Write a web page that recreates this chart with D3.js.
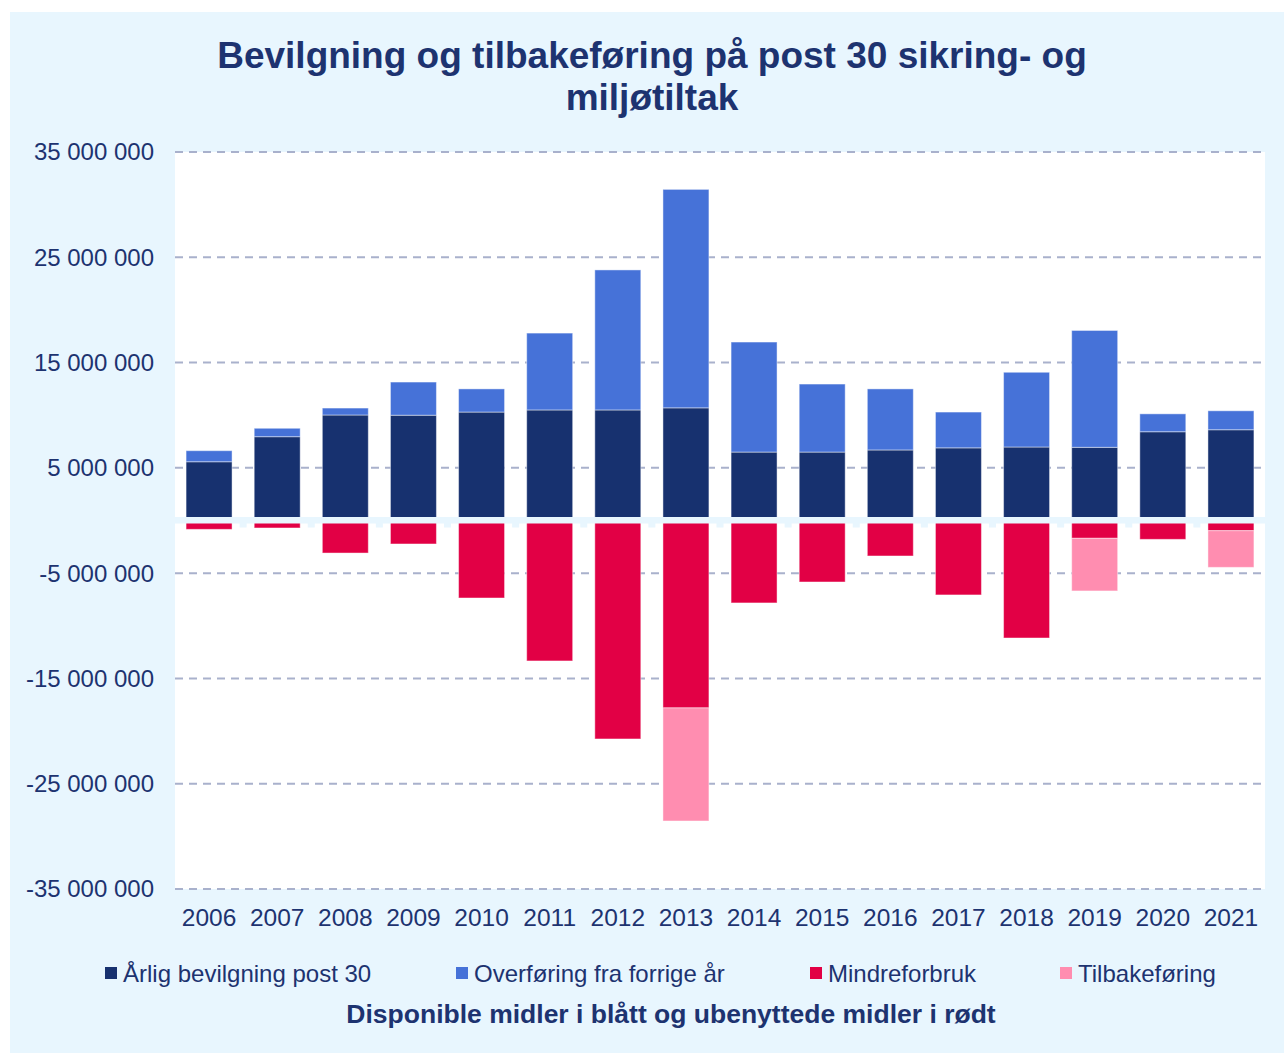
<!DOCTYPE html>
<html><head><meta charset="utf-8">
<script src="https://cdn.jsdelivr.net/npm/d3@7/dist/d3.min.js"></script>
<style>body{margin:0;background:#fff;}svg{display:block;font-family:"Liberation Sans",Arial,sans-serif;}</style>
</head><body>
<svg id="c" width="1284" height="1054"></svg>
<script>
const years = ["2006","2007","2008","2009","2010","2011","2012","2013","2014","2015","2016","2017","2018","2019","2020","2021"];
const arligBevilgning = [5.58,7.96,10.02,10.0,10.3,10.5,10.5,10.7,6.5,6.5,6.7,6.9,6.98,6.95,8.43,8.62].map(v=>v*1e6);
const overforing = [1.05,0.8,0.66,3.15,2.2,7.3,13.3,20.75,10.45,6.46,5.8,3.4,7.1,11.1,1.7,1.8].map(v=>v*1e6);
const mindreforbruk = [-0.84,-0.71,-3.09,-2.23,-7.36,-13.34,-20.75,-17.8,-7.83,-5.84,-3.37,-7.07,-11.16,-1.69,-1.79,-0.97].map(v=>v*1e6);
const tilbakeforing = [0,0,0,0,0,0,0,-10.74,0,0,0,0,0,-5.0,0,-3.48].map(v=>v*1e6);
const yTicks = [35e6,25e6,15e6,5e6,-5e6,-15e6,-25e6,-35e6];
const seriesNames = ["Årlig bevilgning post 30","Overføring fra forrige år","Mindreforbruk","Tilbakeføring"];
const colors = ["#17316f","#4672d8","#e20045","#ff8db0"];
const title = ["Bevilgning og tilbakeføring på post 30 sikring- og","miljøtiltak"];
const subtitle = "Disponible midler i blått og ubenyttede midler i rødt";

const svg = d3.select("#c");
const bg = "#e8f6fe", textCol = "#1d3370";
svg.append("rect").attr("x",10).attr("y",12).attr("width",1274).attr("height",1041).attr("fill",bg);

const L=175,R=1265,T=152,B=889;
svg.append("rect").attr("x",L).attr("y",T).attr("width",R-L).attr("height",B-T).attr("fill","#fff");

const x = d3.scaleBand().domain(years).range([L,R]).paddingInner(0.325).paddingOuter(0.1625);
const y = d3.scaleLinear().domain([-35e6,35e6]).range([B,T]);

// grid
svg.append("g").selectAll("line").data(yTicks).join("line")
  .attr("x1",L).attr("x2",R).attr("y1",d=>y(d)).attr("y2",d=>y(d))
  .attr("stroke","#a9b1cc").attr("stroke-width",2).attr("stroke-dasharray","8,6");

// stacks
const rows = years.map((yr,i)=>({yr, segs:[
  {s:0,y0:0,y1:arligBevilgning[i]},
  {s:1,y0:arligBevilgning[i],y1:arligBevilgning[i]+overforing[i]},
  {s:2,y0:0,y1:mindreforbruk[i]},
  {s:3,y0:mindreforbruk[i],y1:mindreforbruk[i]+tilbakeforing[i]}
]}));
const g = svg.append("g");
rows.forEach(r=>{
  r.segs.filter(s=>s.y1!==s.y0).forEach(s=>{
    g.append("rect").attr("x",x(r.yr)).attr("width",x.bandwidth())
     .attr("y",Math.min(y(s.y0),y(s.y1))).attr("height",Math.abs(y(s.y0)-y(s.y1)))
     .attr("fill",colors[s.s]).attr("stroke","rgba(255,255,255,0.45)").attr("stroke-width",1);
  });
});

// zero band
const z = y(0);
svg.append("rect").attr("x",L).attr("y",z-3.5).attr("width",1284-L).attr("height",6.5).attr("fill",bg);
const step = x.step();
svg.append("g").selectAll("rect").data(d3.range(1,years.length)).join("rect")
  .attr("x",d=>L+d*step-3.5).attr("y",z).attr("width",7).attr("height",7).attr("fill",bg);

// y axis labels
const fmt = d => (d<0?"-":"") + d3.format(",")(Math.abs(d)).replace(/,/g," ");
svg.append("g").selectAll("text").data(yTicks).join("text")
  .attr("x",154).attr("y",d=>y(d)).attr("dy","0.35em").attr("text-anchor","end")
  .attr("font-size",24).attr("fill",textCol)
  .text(fmt);

// x axis labels
svg.append("g").selectAll("text").data(years).join("text")
  .attr("x",d=>x(d)+x.bandwidth()/2).attr("y",926).attr("text-anchor","middle")
  .attr("font-size",24.5).attr("fill",textCol).text(d=>d);

// title
svg.append("g").selectAll("text").data(title).join("text")
  .attr("x",652).attr("y",(d,i)=>68+i*42).attr("text-anchor","middle")
  .attr("font-size",37).attr("font-weight","bold").attr("fill",textCol).text(d=>d);

// legend
const legX = [105,456,810,1060];
const lg = svg.append("g");
seriesNames.forEach((n,i)=>{
  lg.append("rect").attr("x",legX[i]).attr("y",967).attr("width",12).attr("height",12).attr("fill",colors[i]);
  lg.append("text").attr("x",legX[i]+18).attr("y",982).attr("font-size",24).attr("fill",textCol).text(n);
});
svg.append("text").attr("x",671).attr("y",1023).attr("text-anchor","middle")
  .attr("font-size",26.5).attr("font-weight","bold").attr("fill",textCol).text(subtitle);
</script>
</body></html>
